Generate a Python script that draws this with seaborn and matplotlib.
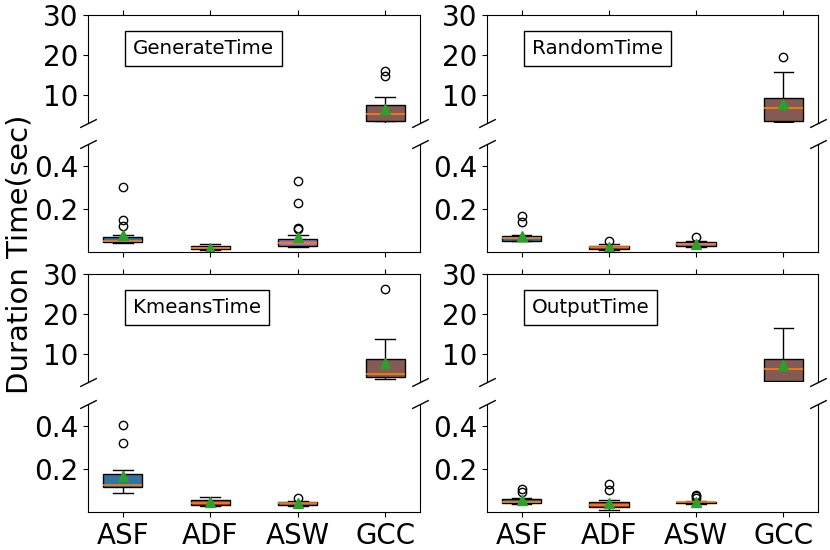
import matplotlib
matplotlib.use('Agg')
import matplotlib.pyplot as plt
import pandas as pd
import seaborn as sns

methods = ['ASF', 'ADF', 'ASW', 'GCC']
colors = ['tab:blue', 'tab:red', 'tab:purple', 'tab:brown']
titles = ['GenerateTime', 'RandomTime', 'KmeansTime', 'OutputTime']

# Durations (sec) per method, one list per stage and method
generate_asf = [0.040, 0.042, 0.043, 0.044, 0.045, 0.048, 0.050, 0.052, 0.053,
                0.058, 0.063, 0.067, 0.070, 0.078, 0.122, 0.146, 0.300]
generate_adf = [0.008, 0.010, 0.012, 0.016, 0.020, 0.024, 0.028, 0.032, 0.036]
generate_asw = [0.025, 0.026, 0.027, 0.028, 0.029, 0.030, 0.033, 0.036, 0.038,
                0.040, 0.043, 0.046, 0.049, 0.052, 0.055, 0.058, 0.078, 0.105,
                0.110, 0.225, 0.329]
generate_gcc = [3.0, 3.1, 3.2, 3.4, 3.8, 4.4, 5.2, 5.6, 6.2, 7.5, 9.4, 14.75, 16.0]

random_asf = [0.050, 0.051, 0.052, 0.053, 0.057, 0.060, 0.064, 0.068, 0.071,
              0.074, 0.080, 0.140, 0.165]
random_adf = [0.010, 0.012, 0.014, 0.015, 0.018, 0.020, 0.022, 0.024, 0.026,
              0.028, 0.032, 0.035, 0.050]
random_asw = [0.025, 0.027, 0.028, 0.030, 0.033, 0.036, 0.038, 0.040, 0.042,
              0.044, 0.048, 0.052, 0.068]
random_gcc = [3.3, 3.35, 3.4, 3.6, 4.2, 5.2, 6.7, 7.2, 8.0, 9.3, 9.8, 15.8, 19.6]

kmeans_asf = [0.089, 0.100, 0.108, 0.114, 0.118, 0.122, 0.126, 0.140, 0.160,
              0.174, 0.194, 0.319, 0.402]
kmeans_adf = [0.028, 0.030, 0.032, 0.036, 0.040, 0.048, 0.055, 0.062, 0.068]
kmeans_asw = [0.028, 0.030, 0.031, 0.032, 0.035, 0.038, 0.040, 0.041, 0.043,
              0.045, 0.048, 0.050, 0.066]
kmeans_gcc = [3.7, 3.9, 4.1, 4.33, 4.5, 4.7, 4.9, 5.2, 6.5, 8.67, 8.8, 13.7, 26.2]

output_asf = [0.035, 0.037, 0.039, 0.041, 0.043, 0.045, 0.047, 0.052, 0.056,
              0.060, 0.065, 0.091, 0.105]
output_adf = [0.010, 0.014, 0.018, 0.022, 0.026, 0.029, 0.032, 0.037, 0.042,
              0.046, 0.055, 0.101, 0.128]
output_asw = [0.036, 0.037, 0.038, 0.039, 0.040, 0.041, 0.042, 0.043, 0.044,
              0.045, 0.045, 0.046, 0.046, 0.050, 0.065, 0.072, 0.078]
output_gcc = [3.1, 3.2, 3.33, 4.8, 6.33, 7.5, 8.75, 12.0, 16.6]

stages = [
    [generate_asf, generate_adf, generate_asw, generate_gcc],
    [random_asf, random_adf, random_asw, random_gcc],
    [kmeans_asf, kmeans_adf, kmeans_asw, kmeans_gcc],
    [output_asf, output_adf, output_asw, output_gcc],
]


def to_frame(groups):
    rows = []
    for name, vals in zip(methods, groups):
        rows += [(name, v) for v in vals]
    return pd.DataFrame(rows, columns=['method', 'time'])


fig = plt.figure(figsize=(8.3, 5.5), dpi=100)
W, H = 830, 550


def px_axes(x0, y0, x1, y1):
    return fig.add_axes([x0 / W, (H - y1) / H, (x1 - x0) / W, (y1 - y0) / H])


cols = [(88, 420), (487, 818)]
rows = [((15, 123), (144, 252)), ((274, 382), (404, 512))]

box_kws = dict(x='method', y='time', hue='method', order=methods,
               palette=dict(zip(methods, colors)), legend=False, width=0.45,
               linecolor='black', linewidth=1, fliersize=6, showmeans=True,
               medianprops=dict(color='tab:orange', linewidth=1.2),
               meanprops=dict(marker='^', markerfacecolor='tab:green',
                              markeredgecolor='tab:green', markersize=7),
               flierprops=dict(marker='o', markerfacecolor='none'))

d = .5
brk = dict(marker=[(-1, -d), (1, d)], markersize=12, linestyle='none',
           color='k', mec='k', mew=1, clip_on=False)

for i, (title, groups) in enumerate(zip(titles, stages)):
    r, c = divmod(i, 2)
    (t0, t1), (b0, b1) = rows[r]
    x0, x1 = cols[c]
    ax_top = px_axes(x0, t0, x1, t1)
    ax_bot = px_axes(x0, b0, x1, b1)
    df = to_frame(groups)
    for ax in (ax_top, ax_bot):
        sns.boxplot(data=df, ax=ax, **box_kws)
        ax.set_xlabel('')
        ax.set_ylabel('')
        ax.tick_params(labelsize=20)

    ax_top.set_ylim(3, 30)
    ax_top.set_yticks([10, 20, 30])
    ax_bot.set_ylim(0, 0.5)
    ax_bot.set_yticks([0.2, 0.4])
    ax_bot.set_yticklabels(['0.2', '0.4'])

    ax_top.spines['bottom'].set_visible(False)
    ax_bot.spines['top'].set_visible(False)
    ax_top.xaxis.tick_top()
    ax_top.tick_params(labeltop=False)
    ax_bot.xaxis.tick_bottom()
    if r == 0:
        ax_bot.tick_params(labelbottom=False)

    ax_top.plot([0, 1], [0, 0], transform=ax_top.transAxes, **brk)
    ax_bot.plot([0, 1], [1, 1], transform=ax_bot.transAxes, **brk)

    ax_top.text(0.135, 0.69, title, transform=ax_top.transAxes, fontsize=14.3,
                va='center', ha='left',
                bbox=dict(boxstyle='square,pad=0.4', facecolor='white',
                          edgecolor='black'))

fig.text(0.024, 0.538, 'Duration Time(sec)', rotation=90, va='center',
         ha='center', fontsize=21)

fig.savefig('out.png', dpi=100)
